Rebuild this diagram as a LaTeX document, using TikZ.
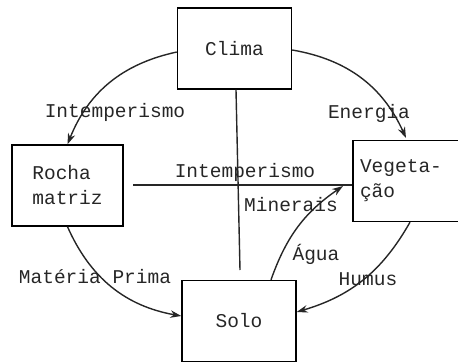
\documentclass[tikz,border=0pt]{standalone}
\usepackage{fontspec}
\setmonofont{Liberation Mono}
\usetikzlibrary{arrows.meta}

\begin{document}
\begin{tikzpicture}[x=1pt, y=-1pt,
    box/.style = {draw, line width=1.4pt, minimum width=114pt, minimum height=81pt, align=left},
    lbl/.style = {inner sep=0pt},
    every node/.style = {font=\fontsize{19.5}{25}\selectfont\ttfamily, text=black!85},
    link/.style = {line width=1.4pt, draw=black!85},
    arr/.style = {link, -{Stealth[length=11pt, width=7.5pt]}}]
    \useasboundingbox (0,0) rectangle (458,364);
        \node[box] (clima) at (234.5,48.5) {Clima};
        \node[box, minimum width=111pt] (rocha) at (67.5,185.5) {Rocha\\matriz};
        \node[box, text width=100pt, inner xsep=5pt] (veg) at (410,181) {Vegeta-\\ção};
        \node[box] (solo) at (239,321) {Solo};
        \coordinate (hleft) at (133,185);
        \coordinate (vend) at (240,270);
        \coordinate (agua) at (343,186);
        % linhas sem seta
        \draw[link] (clima.south -| 236,0) -- (vend);
        \draw[link] (hleft) -- (hleft -| veg.west);
        % setas
        \draw[arr] (clima.west |- 0,52) to[bend right=28] (rocha.north);
        \draw[arr] (clima.east |- 0,50) to[bend left=28] (406,138);
        \draw[arr] (rocha.south) to[bend right=28] (solo.west |- 0,316);
        \draw[arr] (veg.south -| 410,0) to[bend left=22] (solo.east |- 0,312);
        \draw[arr] (solo.north -| 271,0) to[bend left=18] (agua);
        % textos
        \node[lbl] (t1) at (115,112) {Intemperismo};
        \node[lbl] (t2) at (369,113) {Energia};
        \node[lbl] (t3) at (245,172) {Intemperismo};
        \node[lbl] (t4) at (291,205) {Minerais};
        \node[lbl] (t5) at (316,254) {Água};
        \node[lbl] (t6) at (368,279) {Humus};
        \node[lbl] (t7) at (95,277) {Matéria Prima};
    \end{tikzpicture}
\end{document}
